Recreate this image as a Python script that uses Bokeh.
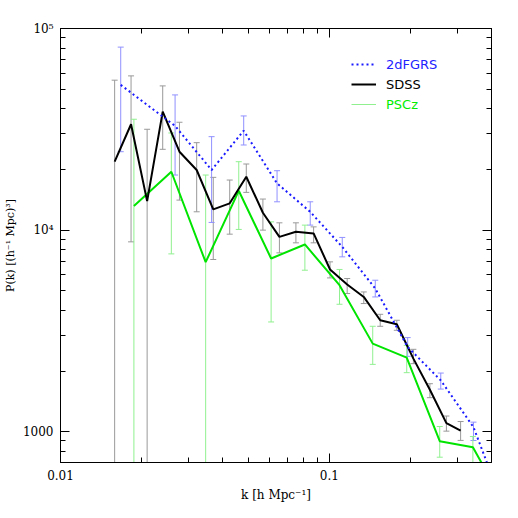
import numpy as np
from bokeh.plotting import figure
from bokeh.models import ColumnDataSource, FixedTicker, LogAxis, Legend, LegendItem
from bokeh.embed import file_html
from bokeh.resources import INLINE

# ---------------- data ----------------
# 2dFGRS
k_2df = [0.01675, 0.02668, 0.03648, 0.04802, 0.06390, 0.08489, 0.1117, 0.1482, 0.1956, 0.2597, 0.3437, 0.4537]
p_2df = [52520, 32860, 19870, 31140, 17060, 12330, 8260, 5133, 2633, 1798, 1054, 397]
hi_2df = [80850, 46840, 29080, 36840, 19710, 13820, 9200, 5644, 2931, 1955, 1116, 397]
lo_2df = [24490, 18760, 10920, 26440, 13820, 10590, 7370, 4663, 2366, 1628, 905, 397]

# SDSS
k_sdss = [0.0159, 0.0183, 0.0210, 0.0240, 0.0277, 0.0321, 0.0370, 0.0426, 0.0491, 0.0566, 0.0652,
          0.0751, 0.0874, 0.1006, 0.1165, 0.1343, 0.1546, 0.1782, 0.2054, 0.2366, 0.2725, 0.3078]
p_sdss = [21850, 33500, 13930, 38700, 24480, 19870, 12670, 13580, 18400, 12190, 9260,
          9810, 9630, 6380, 5375, 4663, 3573, 3412, 2305, 1617, 1104, 1014]
hi_sdss = [55420, 58210, 31640, 51920, 34280, 27150, 18270, 17720, 21280, 14260, 10870,
           10870, 10380, 6960, 5755, 4937, 3824, 3572, 2564, 1731, 1197, 1124]
lo_sdss = [100, 8748, 100, 25170, 14090, 12330, 7152, 9550, 15390, 10000, 7713,
           8650, 8650, 5795, 4848, 4324, 3335, 3186, 2177, 1476, 1007, 906]

# PSCz
k_psc = [0.01875, 0.02584, 0.03467, 0.04603, 0.06073, 0.08110, 0.1091, 0.1450, 0.1940, 0.2574, 0.3419, 0.4537]
p_psc = [13160, 19480, 6934, 15670, 7235, 8491, 5331, 2736, 2331, 898, 838, 426]
hi_psc = [35480, 30330, 18760, 21850, 10990, 10590, 6383, 3335, 2683, 1062, 947, 426]
lo_psc = [100, 7625, 100, 10080, 3504, 6328, 4289, 2159, 1964, 748, 600, 426]

# ticks
x_major = [0.01, 0.1]
x_minor = [0.02, 0.03, 0.04, 0.05, 0.06, 0.07, 0.08, 0.09, 0.2, 0.3, 0.4]
x_labels = {0.01: "0.01", 0.1: "0.1"}
y_major = [1000, 10000, 100000]
y_minor = [700, 800, 900, 2000, 3000, 4000, 5000, 6000, 7000, 8000, 9000,
           20000, 30000, 40000, 50000, 60000, 70000, 80000, 90000]
y_labels = {1000: "1000", 10000: "10⁴", 100000: "10⁵"}

# ---------------- figure ----------------
p = figure(width=512, height=512, x_axis_type="log", y_axis_type="log",
           x_range=(0.01, 0.401), y_range=(704, 100000),
           output_backend="svg", toolbar_location=None,
           min_border_left=56, min_border_right=21, min_border_top=28, min_border_bottom=50)
p.xgrid.visible = False
p.ygrid.visible = False
p.outline_line_color = "black"
p.outline_line_width = 1
p.background_fill_color = "white"
p.border_fill_color = "white"

FONT = "DejaVu Serif"

def style_axis(ax, major, minor, labels=None):
    ax.ticker = FixedTicker(ticks=major, minor_ticks=minor)
    ax.major_tick_in = 9
    ax.major_tick_out = 0
    ax.minor_tick_in = 5
    ax.minor_tick_out = 0
    ax.axis_line_color = "black"
    ax.major_tick_line_color = "black"
    ax.minor_tick_line_color = "black"
    ax.major_label_text_font = FONT
    ax.major_label_text_color = "black"
    ax.axis_label_text_color = "black"
    if labels is None:
        ax.major_label_text_font_size = "1px"
        ax.major_label_text_alpha = 0
        ax.major_label_standoff = 0
    else:
        ax.major_label_overrides = labels
        ax.major_label_text_font_size = "12px"
        ax.major_label_standoff = 7

xa = p.xaxis[0]
style_axis(xa, x_major, x_minor, x_labels)
xa.axis_label = "k [h Mpc⁻¹]"
xa.axis_label_text_font = FONT
xa.axis_label_text_font_size = "12px"
xa.axis_label_text_font_style = "normal"
xa.axis_label_standoff = 5

ya = p.yaxis[0]
style_axis(ya, y_major, y_minor, y_labels)
ya.axis_label = "P(k) [(h⁻¹ Mpc)³]"
ya.axis_label_text_font = FONT
ya.axis_label_text_font_size = "11px"
ya.axis_label_text_font_style = "normal"
ya.axis_label_standoff = 3

top = LogAxis()
style_axis(top, x_major, x_minor)
p.add_layout(top, "above")
right = LogAxis()
style_axis(right, y_major, y_minor)
p.add_layout(right, "right")

# ---------------- error bars ----------------
def errbars(k, lo, hi, color):
    src = ColumnDataSource(dict(k=k, lo=lo, hi=hi))
    r = p.segment(x0="k", y0="lo", x1="k", y1="hi", source=src, line_color=color, line_width=1)
    p.scatter(x="k", y="hi", source=src, marker="dash", size=6, line_color=color, line_width=1)
    p.scatter(x="k", y="lo", source=src, marker="dash", size=6, line_color=color, line_width=1)
    return r

errbars(k_sdss, lo_sdss, hi_sdss, "#999999")
errbars(k_2df, lo_2df, hi_2df, "#9090ff")
r_psc_err = errbars(k_psc, lo_psc, hi_psc, "#90f090")

# ---------------- lines ----------------
r_psc = p.line(k_psc, p_psc, line_color="#00e400", line_width=2)
r_sdss = p.line(k_sdss, p_sdss, line_color="black", line_width=2)
r_2df = p.line(k_2df, p_2df, line_color="#1a1aff", line_width=2, line_dash="2 3")

# ---------------- legend ----------------
def add_leg(label, rend, color, y):
    leg = Legend(items=[LegendItem(label=label, renderers=[rend])], location=(291, y),
                 glyph_width=25, glyph_height=16, label_height=16, padding=0, margin=0,
                 spacing=0, label_standoff=10, border_line_alpha=0, background_fill_alpha=0,
                 label_text_font="DejaVu Sans", label_text_font_size="13px",
                 label_text_color=color)
    p.add_layout(leg)

add_leg("2dFGRS", r_2df, "#2222ff", 390)
add_leg("SDSS", r_sdss, "black", 370)
add_leg("PSCz", r_psc_err, "#00ee00", 350)

open("out.html", "w").write(file_html(p, INLINE))
